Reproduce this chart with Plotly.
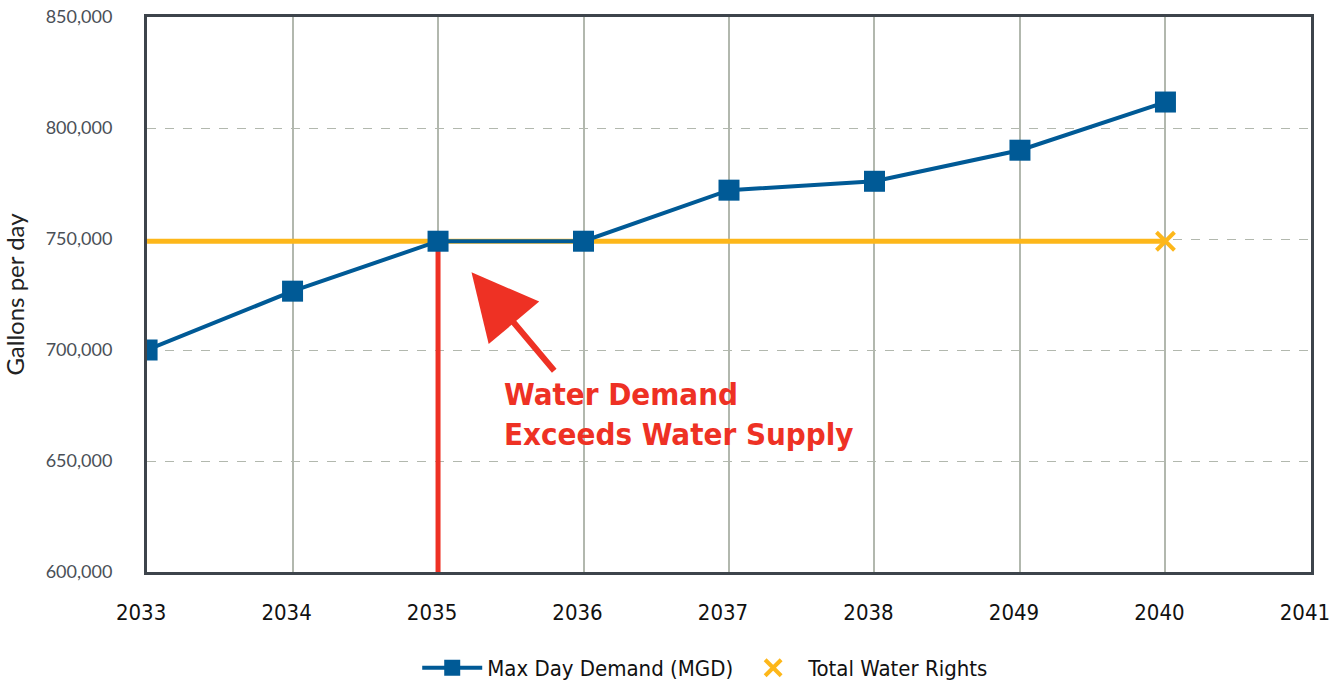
import plotly.graph_objects as go

# x positions are category slots, labels keep the original typo "2049"
years = ["2033", "2034", "2035", "2036", "2037", "2038", "2049", "2040", "2041"]
demand = [700000, 726500, 749000, 749000, 772000, 776000, 790000, 811700]
rights = [749000] * 8
slots = list(range(len(years)))

blue = "#005a96"
orange = "#fdb71a"
red = "#ee3124"
narrow = "DejaVu Sans Condensed, Liberation Sans Narrow, sans-serif"

fig = go.Figure()

# red marker line at the crossover year
fig.add_trace(go.Scatter(
    x=[slots[2], slots[2]], y=[600000, rights[2]],
    mode="lines", line=dict(color=red, width=5),
    showlegend=False, hoverinfo="skip",
))

fig.add_trace(go.Scatter(
    x=slots[:8], y=rights, mode="lines",
    line=dict(color=orange, width=5),
    showlegend=False, legendgroup="rights",
))
# only the last point carries the x marker
fig.add_trace(go.Scatter(
    x=slots[7:8], y=rights[7:8], name="Total Water Rights",
    mode="markers", legendgroup="rights",
    marker=dict(symbol="x-thin", size=18,
                line=dict(color=orange, width=4), color=orange),
))

fig.add_trace(go.Scatter(
    x=slots[:8], y=demand, name="Max Day Demand (MGD)",
    mode="lines+markers",
    line=dict(color=blue, width=4),
    marker=dict(symbol="square", size=21, color=blue),
))

fig.add_annotation(
    x=2.23, y=735000, ax=84, ay=100, text="",
    showarrow=True, arrowhead=2, arrowsize=2.2, arrowwidth=6,
    arrowcolor=red, standoff=0,
)
fig.add_annotation(
    x=2.44, y=689000, xanchor="left", yanchor="top",
    text="<b>Water Demand<br>Exceeds Water Supply</b>",
    showarrow=False, align="left",
    font=dict(family=narrow, size=31, color=red),
)

fig.update_layout(
    width=1333, height=685,
    margin=dict(l=147, r=22, t=17, b=113, autoexpand=False),
    plot_bgcolor="white", paper_bgcolor="white",
    legend=dict(orientation="h", x=0.48, xanchor="center", y=-0.135, yanchor="top",
                traceorder="reversed",
                font=dict(family=narrow, size=22, color="#111111"),
                itemwidth=60),
    font=dict(family="Lato, sans-serif"),
)

fig.update_xaxes(
    range=[-0.0005, 8.0005], tickvals=slots, ticktext=years,
    showgrid=True, gridcolor="#b2b8ae", gridwidth=2,
    showline=True, linecolor="#3d444b", linewidth=3, mirror=True,
    ticks="", ticklabelstandoff=19, ticklabelshift=-6, automargin=False,
    ticklabeloverflow="allow",
    tickfont=dict(family=narrow, size=22, color="#111111"),
    zeroline=False,
)
fig.update_yaxes(
    range=[600000, 850000], dtick=50000, tickformat=",",
    showgrid=True, gridcolor="#b2b8ae", gridwidth=1, griddash="dash",
    showline=True, linecolor="#3d444b", linewidth=3, mirror=True,
    ticks="", ticklabelstandoff=28, automargin=False,
    ticklabeloverflow="allow",
    tickfont=dict(family="Lato, sans-serif", size=18, color="#4a5057"),
    title=dict(text="Gallons per day", standoff=18,
               font=dict(family="Lato, sans-serif", size=24, color="#222222")),
    zeroline=False,
)

# drop the default page margin so the figure fills the window exactly
fig.write_html("out.html", config={"displayModeBar": False},
               post_script="document.body.style.margin='0';")
